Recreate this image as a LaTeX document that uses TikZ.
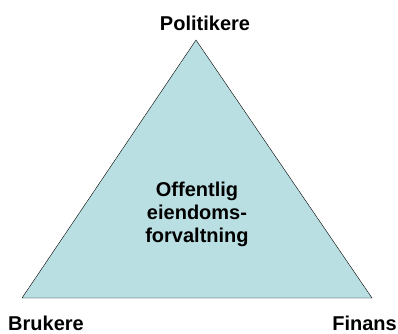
\documentclass[tikz,border=0pt]{standalone}
\usepackage{fontspec}
\setmainfont{Liberation Sans}
\definecolor{paleblue}{RGB}{185,223,226}
\tikzset{
  corner/.style={font=\fontsize{20}{23}\selectfont\bfseries},
  middle/.style={font=\fontsize{20}{23}\selectfont\bfseries, align=center}
}
\begin{document}
\begin{tikzpicture}[x=1pt,y=-1pt]
                \useasboundingbox (0,0) rectangle (398,333);
                \coordinate (top) at (196,40);
                \coordinate (left) at (22,298);
                \coordinate (right) at (372,298);
                \draw [fill=paleblue, line join=miter] (top) -- (right) -- (left) -- cycle;
                \node [corner, anchor=base] (pol) at (205,30) {Politikere};
                \node [corner, anchor=base west, inner sep=0pt] (bru) at (8,330) {Brukere};
                \node [corner, anchor=base east, inner sep=0pt] (fin) at (397,330) {Finans};
                \node [middle] (ofv) at (197,214) {Offentlig\\eiendoms-\\forvaltning};
            \end{tikzpicture}
\end{document}
